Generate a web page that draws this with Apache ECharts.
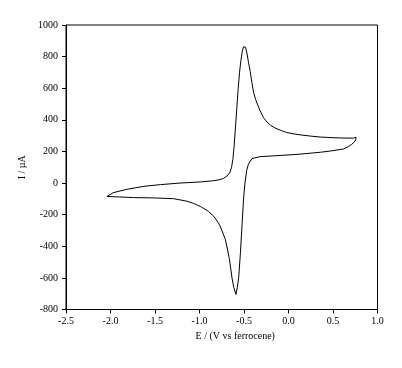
<!DOCTYPE html>
<html>
<head>
<meta charset="utf-8">
<script src="https://cdn.jsdelivr.net/npm/echarts@6/dist/echarts.min.js"></script>
<style>
  html, body { margin: 0; padding: 0; background: #fff; }
</style>
</head>
<body>
<div id="cv" style="width: 402px; height: 368px"></div>
<script>
// anodic sweep: left turning point -> oxidation peak -> right turning point
const forwardE = [-2.04, -1.97, -1.82, -1.63, -1.44, -1.22, -0.99, -0.85, -0.77, -0.73, -0.69, -0.66, -0.64, -0.625, -0.61, -0.595, -0.58, -0.565, -0.55, -0.535, -0.52, -0.507, -0.495, -0.483, -0.467, -0.45, -0.43, -0.411, -0.393, -0.37, -0.35, -0.32, -0.28, -0.24, -0.2, -0.15, -0.08, -0.02, 0.05, 0.13, 0.25, 0.36, 0.5, 0.6, 0.73, 0.76];
const forwardI = [-85, -61, -40, -21, -10, 0, 7, 14, 22, 30, 45, 65, 100, 150, 240, 360, 480, 600, 700, 775, 830, 862, 864, 860, 823, 765, 705, 635, 575, 530, 500, 458, 413, 385, 365, 348, 332, 320, 312, 305, 297, 291, 287, 285, 284, 290];
// cathodic sweep: right turning point -> reduction peak -> back to start
const reverseE = [0.755, 0.74, 0.71, 0.67, 0.62, 0.5, 0.36, 0.13, 0.06, -0.17, -0.32, -0.41, -0.45, -0.47, -0.49, -0.505, -0.52, -0.54, -0.56, -0.575, -0.59, -0.6, -0.615, -0.635, -0.665, -0.71, -0.77, -0.79, -0.84, -0.9, -0.99, -1.07, -1.14, -1.29, -1.52, -1.74, -1.9, -2.04];
const reverseI = [275, 260, 245, 230, 216, 205, 195, 183, 180, 172, 167, 155, 120, 80, -5, -100, -245, -440, -600, -660, -705, -700, -660, -600, -477, -355, -270, -250, -210, -179, -148, -128, -115, -99, -94, -92, -88, -85];

const xTicks = { min: -2.5, max: 1.0, step: 0.5 };
const yTicks = { min: -800, max: 1000, step: 200 };

const loop = [];
forwardE.forEach((e, i) => loop.push([e, forwardI[i]]));
reverseE.forEach((e, i) => loop.push([e, reverseI[i]]));

const font = "Liberation Serif";
const chart = echarts.init(document.getElementById("cv"));
chart.setOption({
  animation: false,
  grid: {
    left: 66, right: 24.5, top: 25, bottom: 58.5,
    show: true, borderColor: "#000", borderWidth: 1
  },
  xAxis: {
    type: "value",
    min: xTicks.min, max: xTicks.max, interval: xTicks.step,
    name: "E / (V vs ferrocene)",
    nameLocation: "middle",
    nameGap: 22,
    nameTextStyle: { fontFamily: font, fontSize: 10, color: "#000", padding: [0, 0, 0, 27] },
    axisLine: { onZero: false, lineStyle: { color: "#000", width: 1 } },
    axisTick: { show: true, length: 4, lineStyle: { color: "#000" } },
    axisLabel: {
      fontFamily: font, fontSize: 10, color: "#000", margin: 7,
      formatter: v => v.toFixed(1)
    },
    splitLine: { show: false }
  },
  yAxis: {
    type: "value",
    min: yTicks.min, max: yTicks.max, interval: yTicks.step,
    name: "I / µA",
    nameLocation: "middle",
    nameGap: 37,
    nameTextStyle: { fontFamily: font, fontSize: 10, color: "#000" },
    axisLine: { onZero: false, lineStyle: { color: "#000", width: 1 } },
    axisTick: { show: true, length: 4, lineStyle: { color: "#000" } },
    axisLabel: {
      fontFamily: font, fontSize: 10, color: "#000", margin: 8,
      formatter: v => String(v)
    },
    splitLine: { show: false }
  },
  series: [{
    type: "line",
    data: loop,
    showSymbol: false,
    smooth: false,
    lineStyle: { color: "#000", width: 1 }
  }]
});
</script>
</body>
</html>
